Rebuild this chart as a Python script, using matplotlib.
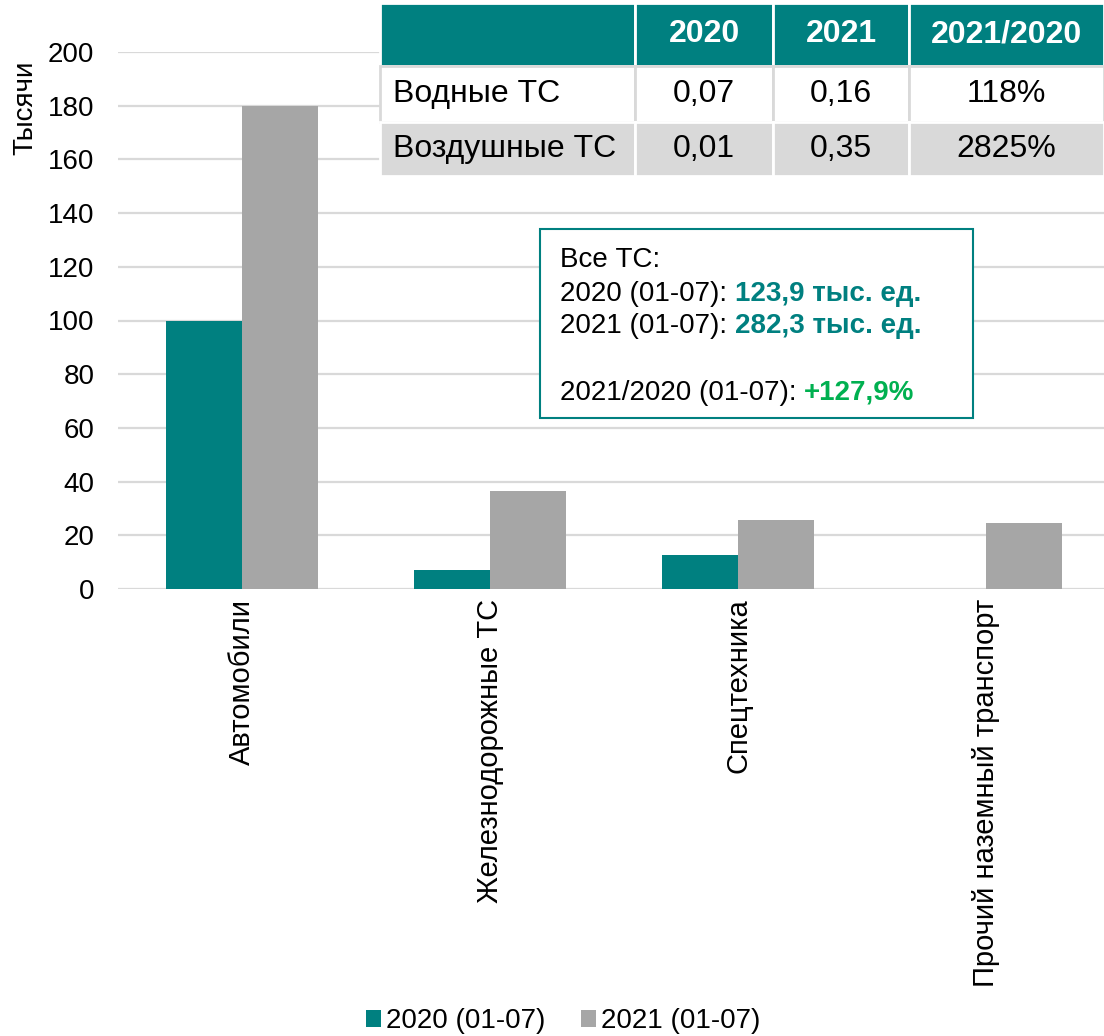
import matplotlib

matplotlib.use("Agg")
import matplotlib.pyplot as plt
import numpy as np
from matplotlib.patches import Rectangle

plt.rcParams["font.family"] = ["Liberation Sans", "DejaVu Sans"]

TEAL = "#008080"
GRAY = "#A6A6A6"
GRID = "#D9D9D9"
GREEN = "#00B050"

categories = ["Автомобили", "Железнодорожные ТС", "Спецтехника", "Прочий наземный транспорт"]
series_names = ["2020 (01-07)", "2021 (01-07)"]
values_2020 = [100.0, 7.1, 12.8, 0.1]
values_2021 = [180.0, 36.6, 25.8, 24.6]

table_header = ["", "2020", "2021", "2021/2020"]
table_rows = [
    ["Водные ТС", "0,07", "0,16", "118%"],
    ["Воздушные ТС", "0,01", "0,35", "2825%"],
]

box_title = "Все ТС:"
box_prefixes = ["2020 (01-07): ", "2021 (01-07): ", "2021/2020 (01-07): "]
box_values = ["123,9 тыс. ед.", "282,3 тыс. ед.", "+127,9%"]
box_colors = [TEAL, TEAL, GREEN]

W, H = 1104, 1036
fig = plt.figure(figsize=(W / 100, H / 100), dpi=100)

# axes runs slightly past the right edge, as in the source
ax = fig.add_axes([118 / W, 1 - 589 / H, 992 / W, 537 / H])
x = np.arange(len(categories))
bw = 0.305
ax.bar(x - bw / 2, values_2020, width=bw, color=TEAL, label=series_names[0], zorder=2)
ax.bar(x + bw / 2, values_2021, width=bw, color=GRAY, label=series_names[1], zorder=2)
ax.set_xlim(-0.5, len(categories) - 0.5)
ax.set_ylim(0, 200)
ax.set_yticks(np.arange(0, 201, 20))
ax.set_xticks(x, categories, rotation=90)
ax.tick_params(axis="both", length=0)
ax.tick_params(axis="y", pad=17, labelsize=20)
ax.tick_params(axis="x", pad=7, labelsize=21)
ax.grid(axis="y", color=GRID, linewidth=1.6, zorder=0)
ax.set_axisbelow(True)
for s in ax.spines.values():
    s.set_visible(False)

fig.text(25 / W, 1 - 108 / H, "Тысячи", rotation=90, ha="center", va="center", fontsize=20)

fig.legend(
    loc="center",
    bbox_to_anchor=(0.51, 1 - 1021 / H),
    ncol=2,
    frameon=False,
    fontsize=20,
    handlelength=0.55,
    handleheight=0.55,
    handletextpad=0.15,
    columnspacing=1.3,
)

# table in upper right
tax = fig.add_axes([380 / W, 1 - 176 / H, 724 / W, 173 / H])
tax.axis("off")
col_w = np.array([255, 138, 136, 195]) / 724
tbl = tax.table(
    cellText=table_rows,
    colLabels=table_header,
    colWidths=list(col_w),
    cellLoc="center",
    bbox=[0, 0, 1, 1],
)
tbl.auto_set_font_size(False)
row_h = [63, 56, 54]
row_bg = [TEAL, "white", GRID]
row_edge = ["white", GRID, "white"]
for (r, c), cell in tbl.get_celld().items():
    cell.set_height(row_h[r])
    cell.set_facecolor(row_bg[r])
    cell.set_edgecolor(row_edge[r])
    cell.set_linewidth(2)
    txt = cell.get_text()
    txt.set_fontsize(23)
    if r == 0:
        txt.set_color("white")
        txt.set_fontweight("bold")
    if c == 0:
        cell._loc = "left"
        cell.PAD = 0.05
        txt.set_horizontalalignment("left")

# summary box
fig.patches.append(
    Rectangle((540 / W, 1 - 418 / H), 433 / W, 189 / H, transform=fig.transFigure,
              facecolor="white", edgecolor=TEAL, linewidth=1.5, zorder=5)
)
renderer = fig.canvas.get_renderer()
x0 = 560 / W
fig.text(x0, 1 - 267 / H, box_title, fontsize=20, va="baseline", zorder=6)
baselines = [301, 333, 400]
for pre, val, col, yb in zip(box_prefixes, box_values, box_colors, baselines):
    t = fig.text(x0, 1 - yb / H, pre, fontsize=20, va="baseline", zorder=6)
    bb = t.get_window_extent(renderer)
    fig.text(bb.x1 / W, 1 - yb / H, val, fontsize=20, va="baseline",
             color=col, fontweight="bold", zorder=6)

fig.savefig("out.png", dpi=100)
